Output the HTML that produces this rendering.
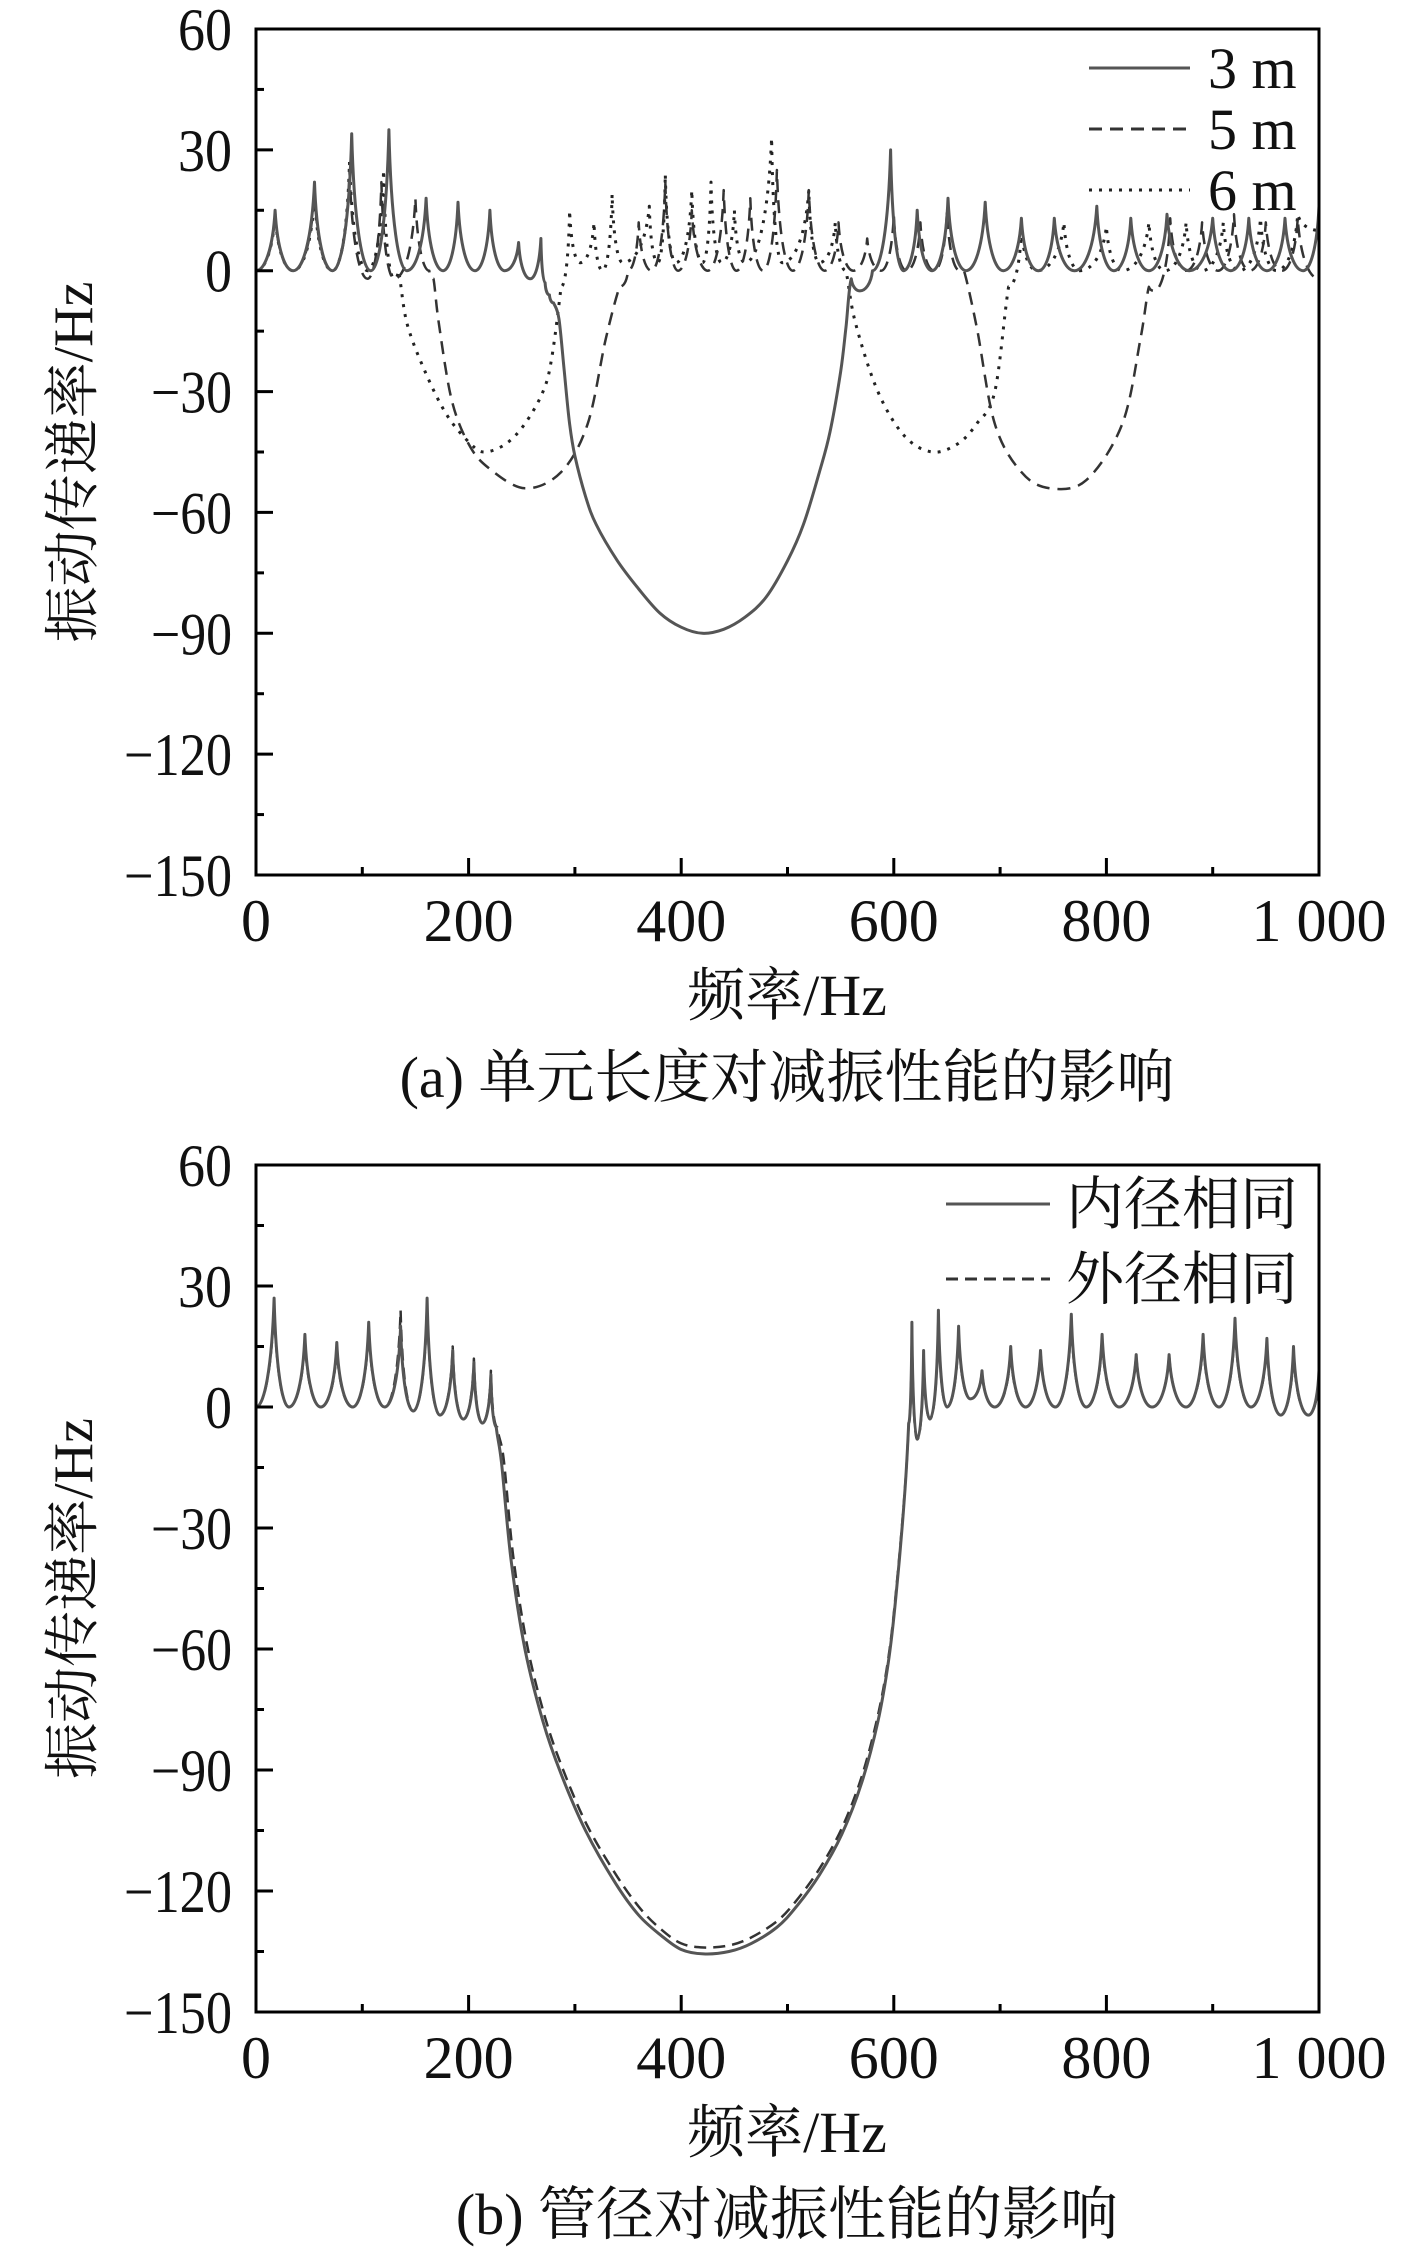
<!DOCTYPE html>
<html><head><meta charset="utf-8"><style>
html,body{margin:0;padding:0;background:#fff;}
svg{display:block;}
text{font-family:"Liberation Serif","Noto Serif CJK SC",serif;fill:#111;}
</style></head><body>
<svg id="fig" width="1417" height="2250" viewBox="0 0 1417 2250" xmlns="http://www.w3.org/2000/svg"></svg>
<script>
// ---- Panel (a) data: unit length ----
const a3Freq=[0,18,35,55,72,90,108,125,142,160,176,190,206,220,234,247,258,268,272,276,280,285,290,295,300,310,320,340,360,380,400,420,440,460,480,500,515,530,540,550,555,560,568,580,597,609,622,636,651,668,686,703,720,736,751,770,791,807,823,840,857,878,900,917,934,951,968,985,1000];
const a3Val=[0,15,0,22,0,34,0,35,0,18,0,17,0,15,0,7,-2,8,-3,-6,-8,-12,-25,-38,-46,-56,-63,-72,-79,-85,-88.5,-90,-89,-86,-81,-72,-63,-50,-40,-25,-14,-2,-5,0,30,0,15,0,18,0,17,0,13,0,13,0,16,0,13,0,14,0,13,0,13,0,13,0,16];
const a5Freq=[0,18,35,55,72,88,105,118,130,150,163,167,172,184,200,219,253,287,312,329,342,350,360,372,385,397,410,425,440,452,465,477,490,505,520,535,548,562,575,588,600,612,625,638,650,662,666,678,695,720,747,781,815,832,840,845,860,875,890,905,920,935,950,965,980,1000];
const a5Val=[0,14,0,20,0,25,-2,22,-2,18,0,-2,-13,-32,-43,-49,-54,-50,-38,-17,-4,0,12,0,22,0,15,0,20,0,18,0,25,0,20,0,12,0,8,0,14,0,12,0,15,0,0,-14,-38,-50,-54,-52,-38,-17,-4,-5,13,0,12,0,14,0,12,0,13,-2];
const a6Freq=[0,18,35,55,72,88,105,120,130,134,142,159,180,202,215,235,253,270,278,287,295,305,318,326,335,345,370,378,385,395,410,420,428,438,450,460,485,495,520,530,545,555,564,585,610,636,660,678,695,708,720,735,760,775,800,815,840,855,875,890,910,925,945,960,980,1000];
const a6Val=[0,14,0,19,0,27,0,25,-2,0,-13,-25,-36,-43,-45,-43,-38,-30,-22,-4,15,2,12,0,19,2,16,2,24,2,20,2,22,2,15,2,33,2,20,2,12,0,-13,-30,-41,-45,-43,-38,-30,-4,10,0,12,0,11,0,12,0,12,0,12,0,13,0,14,10];
// ---- Panel (b) data: pipe diameter ----
const bInFreq=[0,17,31,46,61,76,91,106,121,136,148,161,173,185,195,205,213,221,226,231,240,253,270,287,310,338,360,381,400,421,445,466,490,508,530,551,570,585,595,602,610,614,617,622,628,634,642,650,661,672,683,695,710,724,738,752,767,781,796,812,828,843,859,875,891,906,921,936,951,964,976,990,1000];
const bInVal=[0,27,0,18,0,16,0,21,0,20,-1,27,-2,14,-3,11,-4,8,-5,-14,-38,-60,-78,-91,-105,-118,-126,-131,-134.5,-135.6,-135,-133,-129,-124,-116,-106,-93,-78,-63,-47,-22.5,-4,21,-8,14,-3,24,0,20,2,9,0,15,0,14,0,23,0,18,0,13,0,13,0,18,0,22,0,17,-2,15,-2,9];
const bOutFreq=[0,17,31,46,61,76,91,106,121,136,148,161,173,185,195,205,213,221,227,233,242,255,272,289,312,340,362,381,400,421,445,466,490,508,530,551,570,585,595,602,610,614,617,622,628,634,642,650,661,672,683,695,710,724,738,752,767,781,796,812,828,843,859,875,891,906,921,936,951,964,976,990,1000];
const bOutVal=[0,26,0,17,0,15,0,20,0,24,-1,26,-2,15,-3,12,-4,9,-5,-13,-37,-59,-77,-90,-104,-116.5,-124.5,-129.5,-133,-134,-133.5,-131.5,-127.5,-122.5,-114.5,-104.5,-91.5,-76.5,-62,-46,-22,-4,20,-8,13,-3,23,0,19,2,9,0,14,0,14,0,22,0,17,0,13,0,13,0,17,0,21,0,16,-2,14,-2,8];
// ---- Axis tick data ----
const yTicks=[60,30,0,-30,-60,-90,-120,-150];
const yTickLabels=["60","30","0","\u221230","\u221260","\u221290","\u2212120","\u2212150"];
const xTicks=[0,200,400,600,800,1000];
const xTickLabels=["0","200","400","600","800","1 000"];

const NS="http://www.w3.org/2000/svg";
const svg=document.getElementById('fig');
function mk(tag,attrs,parent){const e=document.createElementNS(NS,tag);for(const k in attrs)e.setAttribute(k,attrs[k]);(parent||svg).appendChild(e);return e;}

function panel(P){
  const g=mk('g',{});
  
  
  const L=256,R=1319,T=P.top,B=P.bottom;
  const xs=f=>L+(f-0)/1000*(R-L);
  const ys=v=>T+(60-v)/210*(B-T);
  const cp=mk('clipPath',{id:'clip'+P.id},g);
  mk('rect',{x:L,y:T,width:R-L,height:B-T},cp);
  P.series.forEach(s=>{
    const X=s.f.map(xs),Y=s.v.map(ys),n=X.length;
    let d='M'+X[0].toFixed(1)+','+Y[0].toFixed(1);
    for(let i=1;i<n;i++){
      const x0=X[i-1],y0=Y[i-1],x1=X[i],y1=Y[i];
      if(s.v[i-1]>=-8&&s.v[i]>=-8){
        let c1x,c1y,c2x,c2y;
        if(s.v[i]>s.v[i-1]){
          c1x=x0+(x1-x0)*0.45;c1y=y0;c2x=x1-(x1-x0)*0.12;c2y=y0+(y1-y0)*0.35;
        } else {
          c1x=x0+(x1-x0)*0.12;c1y=y0+(y1-y0)*0.65;c2x=x1-(x1-x0)*0.45;c2y=y1;
        }
        d+=' C'+c1x.toFixed(1)+','+c1y.toFixed(1)+' '+c2x.toFixed(1)+','+c2y.toFixed(1)+' '+x1.toFixed(1)+','+y1.toFixed(1);
      } else {
        const xa=X[Math.max(i-2,0)],ya=Y[Math.max(i-2,0)],xb=X[Math.min(i+1,n-1)],yb=Y[Math.min(i+1,n-1)];
        const c1x=x0+(x1-xa)/6,c1y=y0+(y1-ya)/6,c2x=x1-(xb-x0)/6,c2y=y1-(yb-y0)/6;
        d+=' C'+c1x.toFixed(1)+','+c1y.toFixed(1)+' '+c2x.toFixed(1)+','+c2y.toFixed(1)+' '+x1.toFixed(1)+','+y1.toFixed(1);
      }
    }
    const p=mk('path',{d:d,fill:'none',stroke:s.color,'stroke-width':s.w,'stroke-dasharray':s.dash,'clip-path':'url(#clip'+P.id+')','stroke-linejoin':'round'},g);
    
    
  });
  const fr=mk('rect',{x:L,y:T,width:R-L,height:B-T,fill:'none',stroke:'#000','stroke-width':3},g);
  
  
  yTicks.forEach((t,i)=>{
    mk('line',{x1:L,x2:L+17,y1:ys(t),y2:ys(t),stroke:'#000','stroke-width':3},g);
    if(i<yTicks.length-1){const m=t-15;mk('line',{x1:L,x2:L+8,y1:ys(m),y2:ys(m),stroke:'#000','stroke-width':3},g);}
    const tx=mk('text',{x:232,y:ys(t)+21,'text-anchor':'end','font-size':60,'textLength':(yTickLabels[i].length*27),'lengthAdjust':'spacingAndGlyphs'},g);
    tx.textContent=yTickLabels[i];
    
    
  });
  xTicks.forEach((t,i)=>{
    mk('line',{x1:xs(t),x2:xs(t),y1:B,y2:B-17,stroke:'#000','stroke-width':3},g);
    if(i<xTicks.length-1){const m=t+100;mk('line',{x1:xs(m),x2:xs(m),y1:B,y2:B-8,stroke:'#000','stroke-width':3},g);}
    const tx=mk('text',{x:xs(t),y:B+66,'text-anchor':'middle','font-size':60},g);
    tx.textContent=xTickLabels[i];
    
    
  });
  const xt=mk('text',{x:787,y:B+140,'text-anchor':'middle','font-size':58},g);
  xt.textContent='频率/Hz';
  
  
  const cy=(T+B)/2+10;
  const yt=mk('text',{x:0,y:0,'text-anchor':'middle','font-size':56,transform:'translate(92,'+cy+') rotate(-90)'},g);
  yt.textContent='振动传递率/Hz';
  
  
  const cap=mk('text',{x:787,y:B+222,'text-anchor':'middle','font-size':58},g);
  cap.textContent=P.caption;
  
  
  P.legend.forEach((l,i)=>{
    const y=P.legY[i];
    const ln=mk('line',{x1:P.legX1,x2:P.legX2,y1:y,y2:y,stroke:l.color,'stroke-width':3,'stroke-dasharray':l.dash},g);
    
    
    const tx=mk('text',{x:P.legTX,y:y+20,'font-size':58},g);
    tx.textContent=l.label;
    
    
  });
}

panel({id:'a',name:'panel-a-unit-length',top:29,bottom:875,caption:'(a) 单元长度对减振性能的影响',
  series:[
    {name:'series-6m',f:a6Freq,v:a6Val,color:'#222',w:3,dash:'3,7'},
    {name:'series-5m',f:a5Freq,v:a5Val,color:'#333',w:2.5,dash:'13,8'},
    {name:'series-3m',f:a3Freq,v:a3Val,color:'#555',w:3,dash:'none'}],
  legend:[{label:'3 m',color:'#555',dash:'none'},{label:'5 m',color:'#333',dash:'13,8'},{label:'6 m',color:'#222',dash:'3,7'}],
  legY:[68,129,190],legX1:1089,legX2:1190,legTX:1208});
panel({id:'b',name:'panel-b-pipe-diameter',top:1165,bottom:2012,caption:'(b) 管径对减振性能的影响',
  series:[
    {name:'series-same-outer-diameter',f:bOutFreq,v:bOutVal,color:'#333',w:2.5,dash:'12,7'},
    {name:'series-same-inner-diameter',f:bInFreq,v:bInVal,color:'#555',w:3,dash:'none'}],
  legend:[{label:'内径相同',color:'#555',dash:'none'},{label:'外径相同',color:'#333',dash:'12,7'}],
  legY:[1204,1279],legX1:946,legX2:1050,legTX:1066});
</script>
</body></html>
